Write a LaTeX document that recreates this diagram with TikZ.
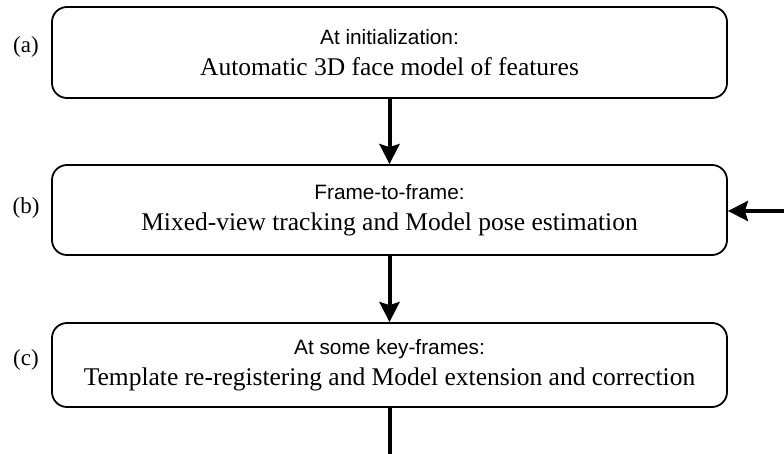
\documentclass[tikz,border=0pt]{standalone}
\usepackage{fontspec}
\setmainfont{Liberation Serif}
\newfontfamily\labsans{Liberation Sans}
\usetikzlibrary{arrows.meta}
\tikzset{
  stagebox/.style={draw, line width=1.8pt, rounded corners=15pt, minimum width=675pt, align=center, inner sep=0pt, font=\fontsize{25}{31}\selectfont},
  flowarrow/.style={line width=4pt, -{Stealth[length=20pt,width=20pt,inset=3pt]}},
  flowline/.style={line width=4pt},
  steplabel/.style={font=\fontsize{23}{26}\selectfont}
}
\newcommand{\boxtext}[2]{{\labsans\fontsize{20.8}{31}\selectfont #1}\\{\fontsize{25.5}{31}\selectfont #2}}
\begin{document}
\begin{tikzpicture}[x=1pt,y=-1pt]
\useasboundingbox (0,0) rectangle (784,454);
\node[stagebox, minimum height=91pt] (a) at (389.5,52.5) {\boxtext{At initialization:}{Automatic 3D face model of features}};
\node[stagebox, minimum height=90pt] (b) at (389.5,210) {\boxtext{Frame-to-frame:}{Mixed-view tracking and Model pose estimation}};
\node[stagebox, minimum height=84pt] (c) at (389.5,365) {\boxtext{At some key-frames:}{Template re-registering and Model extension and correction}};
\node[steplabel] (la) at (26,47) {(a)};
\node[steplabel] (lb) at (26,208) {(b)};
\node[steplabel] (lc) at (26,360) {(c)};
\coordinate (rin) at (784,211);
\coordinate (bout) at (389.5,454);
\draw[flowarrow] (a.south) -- (b.north);
\draw[flowarrow] (b.south) -- (c.north);
\draw[flowarrow] (rin) -- (rin -| b.east);
\draw[flowline] (c.south) -- (bout);
\end{tikzpicture}
\end{document}
